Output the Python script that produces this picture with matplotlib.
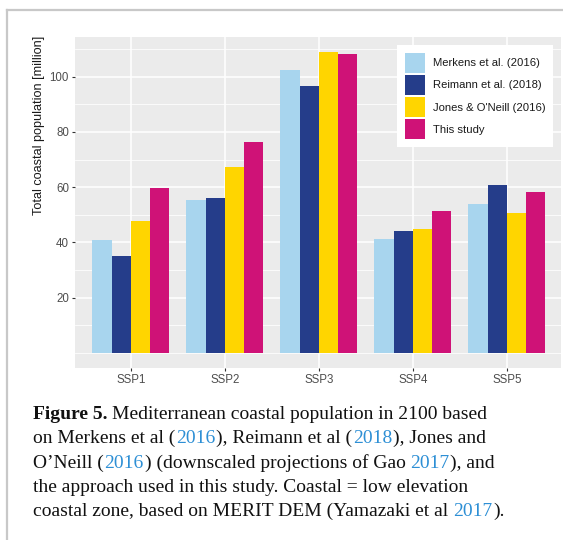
import matplotlib
matplotlib.use('Agg')
import matplotlib.pyplot as plt
import numpy as np
from matplotlib.transforms import IdentityTransform
from matplotlib.lines import Line2D

# ---------------- data ----------------
scenarios = ['SSP1', 'SSP2', 'SSP3', 'SSP4', 'SSP5']
series_names = ['Merkens et al. (2016)', 'Reimann et al. (2018)',
                "Jones & O'Neill (2016)", 'This study']
merkens = [41.0, 55.4, 102.4, 41.4, 53.9]
reimann = [35.0, 56.1, 96.6, 44.0, 60.9]
jones = [47.9, 67.4, 108.9, 45.0, 50.7]
this_study = [59.7, 76.4, 108.2, 51.5, 58.1]
yticks = [20, 40, 60, 80, 100]
ylabel = 'Total coastal population [million]'
series_colors = ['#A8D5EE', '#253D8A', '#FFD500', '#CF1277']

caption_lines = [
    [("Figure 5.", 'k', 'bold'), (" Mediterranean coastal population in 2100 based", 'k', 'normal')],
    [("on Merkens et al (", 'k', 'normal'), ("2016", 'b', 'normal'), ("), Reimann et al (", 'k', 'normal'),
     ("2018", 'b', 'normal'), ("), Jones and", 'k', 'normal')],
    [("O\u2019Neill (", 'k', 'normal'), ("2016", 'b', 'normal'),
     (") (downscaled projections of Gao", 'k', 'normal'), (" 2017", 'b', 'normal'), ("), and", 'k', 'normal')],
    [("the approach used in this study. Coastal = low elevation", 'k', 'normal')],
    [("coastal zone, based on MERIT DEM (Yamazaki et al", 'k', 'normal'), (" 2017", 'b', 'normal'),
     (").", 'k', 'normal')],
]

# ---------------- figure ----------------
plt.rcParams['font.family'] = ['Liberation Sans', 'DejaVu Sans']
W, H = 563, 540
fig = plt.figure(figsize=(W / 100, H / 100), dpi=100)
fig.patch.set_facecolor('white')

p_left, p_right, p_top, p_bottom = 74.5, 561, 37, 368
ax = fig.add_axes([p_left / W, (H - p_bottom) / H, (p_right - p_left) / W, (p_bottom - p_top) / H])

x = np.arange(1, len(scenarios) + 1)
bw = 0.205
all_series = [merkens, reimann, jones, this_study]
handles = []
for i, (vals, name, col) in enumerate(zip(all_series, series_names, series_colors)):
    b = ax.bar(x + (i - 1.5) * bw, vals, width=bw, color=col, label=name, linewidth=0, zorder=3)
    handles.append(b)

ax.set_xlim(0.4, 5.575)
ax.set_ylim(-5.45, 114.35)
ax.set_xticks(x)
ax.set_xticklabels(scenarios)
ax.set_yticks(yticks)
ax.set_yticks(np.arange(0, 120, 10), minor=True)
ax.set_facecolor('#EBEBEB')
for s in ax.spines.values():
    s.set_visible(False)
ax.set_axisbelow(True)
ax.grid(which='major', color='white', linewidth=1.1)
ax.grid(which='minor', axis='y', color='white', linewidth=0.55)
ax.tick_params(axis='both', which='major', length=2.5, width=0.8, color='#333333',
               labelcolor='#4D4D4D', labelsize=8.3, pad=1.5)
ax.tick_params(axis='y', which='minor', length=0)

leg_fs = 8.1
leg = ax.legend(handles=handles, loc='upper right',
                bbox_to_anchor=((553 - p_left) / (p_right - p_left), (p_bottom - 45) / (p_bottom - p_top)),
                borderaxespad=0, fontsize=leg_fs, frameon=True, facecolor='white', edgecolor='none',
                framealpha=1, fancybox=False, handlelength=1.78, handleheight=2.36,
                labelspacing=0.196, handletextpad=0.7, borderpad=0.68)
for t in leg.get_texts():
    t.set_color('#1a1a1a')

fig.text(39 / W, 1 - 125 / H, ylabel, rotation=90, ha='center', va='center',
         fontsize=9.1, color='#1a1a1a')

# frame lines
fig.add_artist(Line2D([7 / W, 7 / W], [0, 1 - 10 / H], transform=fig.transFigure,
                      color='#c8c8c8', lw=1.6))
fig.add_artist(Line2D([7 / W, 1], [1 - 10 / H, 1 - 10 / H], transform=fig.transFigure,
                      color='#c8c8c8', lw=1.6))

# caption (rich text)
renderer = fig.canvas.get_renderer()
cap_fs = 14.0
cap_family = ['Liberation Serif', 'DejaVu Serif']
colmap = {'k': '#111111', 'b': '#2D8FD5'}
tmp = fig.text(0, 0, 'x x', fontsize=cap_fs, family=cap_family, transform=IdentityTransform())
w1 = tmp.get_window_extent(renderer).width
tmp.set_text('xx')
w2 = tmp.get_window_extent(renderer).width
tmp.remove()
space_w = w1 - w2

baselines = [419, 443, 467.5, 492, 516]
cap_x = 33
for line, bl in zip(caption_lines, baselines):
    cx = cap_x
    for j, (txt, c, wt) in enumerate(line):
        if j > 0:
            if txt.startswith(' '):
                cx += space_w
                txt = txt[1:]
            else:
                cx += 0.8
        t = fig.text(cx, H - bl, txt, fontsize=cap_fs, family=cap_family, color=colmap[c],
                     weight=wt, ha='left', va='baseline', transform=IdentityTransform())
        cx = t.get_window_extent(renderer).x1

fig.savefig('out.png', dpi=100)
